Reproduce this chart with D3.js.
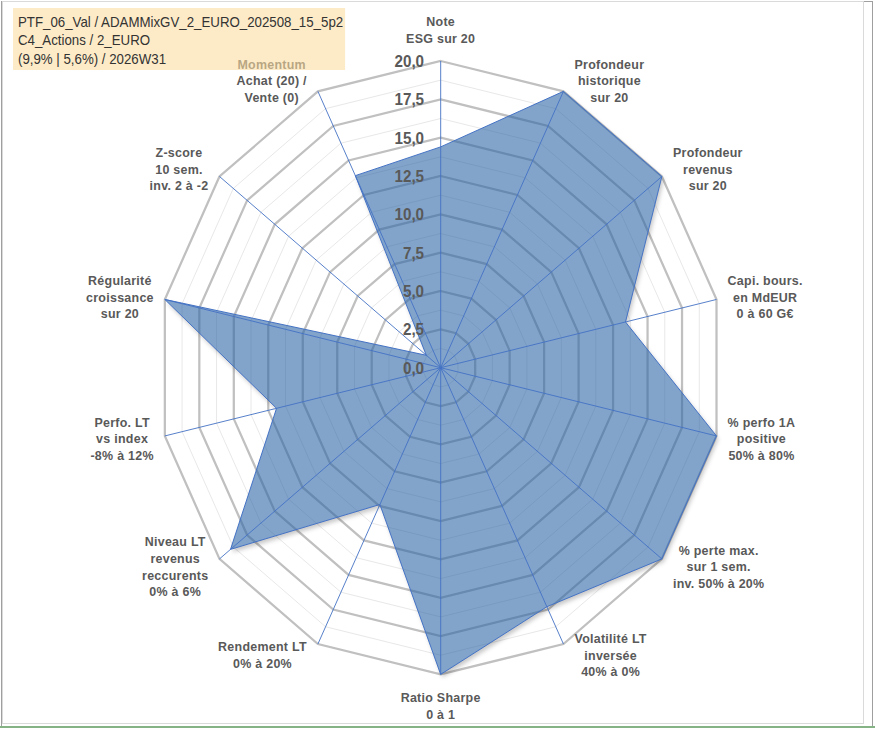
<!DOCTYPE html>
<html>
<head>
<meta charset="utf-8">
<script src="https://cdn.jsdelivr.net/npm/d3@7"></script>
<style>
  body { margin: 0; background: #fff; }
  text { font-family: "Liberation Sans", Arial, sans-serif; }
</style>
</head>
<body>
<svg id="chart"></svg>
<script>
// Axis labels (one entry per spoke, lines of text)
const categories = [
  ["Note", "ESG sur 20"],
  ["Profondeur", "historique", "sur 20"],
  ["Profondeur", "revenus", "sur 20"],
  ["Capi. bours.", "en MdEUR", "0 à 60 G€"],
  ["% perfo 1A", "positive", "50% à 80%"],
  ["% perte max.", "sur 1 sem.", "inv. 50% à 20%"],
  ["Volatilité LT", "inversée", "40% à 0%"],
  ["Ratio Sharpe", "0 à 1"],
  ["Rendement LT", "0% à 20%"],
  ["Niveau LT", "revenus", "reccurents", "0% à 6%"],
  ["Perfo. LT", "vs index", "-8% à 12%"],
  ["Régularité", "croissance", "sur 20"],
  ["Z-score", "10 sem.", "inv. 2 à -2"],
  ["Momentum", "Achat (20) /", "Vente (0)"]
];

// Scores (0 - 20)
const values = [14.4, 20, 20, 13.4, 20, 20, 17.3, 20, 9.9, 19.0, 11.9, 20, 1.3, 13.9];

// Radial tick labels
const ticks = [0, 2.5, 5, 7.5, 10, 12.5, 15, 17.5, 20];
const minorTicks = [1.25, 3.75, 6.25, 8.75, 11.25, 13.75, 16.25, 18.75];

const titleLines = [
  "PTF_06_Val / ADAMMixGV_2_EURO_202508_15_5p2",
  "C4_Actions / 2_EURO",
  "(9,9% | 5,6%) / 2026W31"
];

const width = 875, height = 729;
const squeeze = 0.9225; // the original picture is a bit narrower than tall
const cx = 477.7, cy = 367.7, R = 306.7;
const n = categories.length;

const svg = d3.select('#chart')
    .attr('width', width)
    .attr('height', height);

// frame
svg.append('rect')
    .attr('x', 1.5).attr('y', 1.5)
    .attr('width', 871).attr('height', 725)
    .attr('fill', 'none').attr('stroke', '#9f9f9f');
svg.append('rect')
    .attr('x', 2.5).attr('y', 1.5)
    .attr('width', 861).attr('height', 722)
    .attr('fill', 'none').attr('stroke', '#dadada');
svg.append('line')
    .attr('x1', 0).attr('x2', width)
    .attr('y1', 727).attr('y2', 727)
    .attr('stroke', '#86b386').attr('stroke-width', 2);

const g = svg.append('g').attr('transform', `scale(${squeeze},1)`);

const rScale = d3.scaleLinear().domain([0, 20]).range([0, R]);
const aScale = d3.scaleLinear().domain([0, n]).range([0, 2 * Math.PI]);
const idx = d3.range(n);

const ring = v => d3.lineRadial()
    .angle(i => aScale(i))
    .radius(() => rScale(v))
    .curve(d3.curveLinearClosed)(idx);

const area = d3.lineRadial()
    .angle((d, i) => aScale(i))
    .radius(d => rScale(d))
    .curve(d3.curveLinearClosed);

// shadow only outside the area, so the transparent fill stays clean
const defs = svg.append('defs');
const blur = defs.append('filter').attr('id', 'blur')
    .attr('x', '-10%').attr('y', '-10%').attr('width', '120%').attr('height', '120%');
blur.append('feGaussianBlur').attr('stdDeviation', 2.2);
const mask = defs.append('mask').attr('id', 'outside')
    .attr('maskUnits', 'userSpaceOnUse')
    .attr('x', -600).attr('y', -600).attr('width', 1200).attr('height', 1200);
mask.append('rect')
    .attr('x', -600).attr('y', -600).attr('width', 1200).attr('height', 1200)
    .attr('fill', '#fff');
mask.append('path').attr('d', area(values)).attr('fill', '#000');

const plot = g.append('g').attr('transform', `translate(${cx},${cy})`);

// minor grid
plot.selectAll('.minor')
    .data(minorTicks)
    .enter().append('path')
    .attr('d', d => ring(d))
    .attr('fill', 'none')
    .attr('stroke', '#e8e8e8')
    .attr('stroke-width', 1)
    .attr('vector-effect', 'non-scaling-stroke');

// major grid
plot.selectAll('.major')
    .data(ticks.filter(t => t > 0))
    .enter().append('path')
    .attr('d', d => ring(d))
    .attr('fill', 'none')
    .attr('stroke', '#c0c0c0')
    .attr('stroke-width', 2.25)
    .attr('vector-effect', 'non-scaling-stroke');

// data area
plot.append('g')
    .attr('mask', 'url(#outside)')
    .append('path')
    .attr('d', area(values))
    .attr('transform', 'translate(2,3)')
    .attr('fill', '#000')
    .attr('fill-opacity', 0.22)
    .attr('filter', 'url(#blur)');

plot.append('path')
    .attr('d', area(values))
    .attr('fill', '#2863a6')
    .attr('fill-opacity', 0.58)
    .attr('stroke', '#4472c4')
    .attr('stroke-width', 1)
    .attr('vector-effect', 'non-scaling-stroke');

// spokes
plot.selectAll('.spoke')
    .data(idx)
    .enter().append('line')
    .attr('x1', 0).attr('y1', 0)
    .attr('x2', i => rScale(20) * Math.sin(aScale(i)))
    .attr('y2', i => -rScale(20) * Math.cos(aScale(i)))
    .attr('stroke', '#4472c4')
    .attr('stroke-width', 0.9)
    .attr('vector-effect', 'non-scaling-stroke');

// radial tick labels
const fmt = d => d3.format('.1f')(d).replace('.', ',');
plot.selectAll('.tick')
    .data(ticks)
    .enter().append('text')
    .attr('x', -18)
    .attr('y', d => -rScale(d))
    .attr('dy', '0.36em')
    .attr('text-anchor', 'end')
    .attr('font-size', 16.5)
    .attr('font-weight', 'bold')
    .attr('fill', '#595959')
    .text(fmt);

// category labels
const lineH = 16.6;
categories.forEach((lines, i) => {
    const a = aScale(i);
    const s = Math.sin(a), c = Math.cos(a);
    const vx = rScale(20) * s, vy = -rScale(20) * c;
    const h = lines.length * lineH;
    const t = plot.append('text')
        .attr('font-size', 13.5)
        .attr('font-weight', 'bold')
        .attr('letter-spacing', 0.3)
        .attr('fill', '#595959')
        .attr('text-anchor', 'middle');
    lines.forEach(l => t.append('tspan').text(l));
    const w = d3.max(t.selectAll('tspan').nodes(), nd => nd.getComputedTextLength());
    let x, yc;
    if (Math.abs(s) < 0.3) {
        x = vx;
        yc = c > 0 ? vy - 14.5 - h / 2 : vy + 14.5 + h / 2;
    } else {
        x = vx + Math.sign(s) * (12 + w / 2);
        yc = vy - c * 12;
    }
    t.selectAll('tspan')
        .attr('x', x)
        .attr('y', (d, k) => yc - h / 2 + lineH * (k + 0.5))
        .attr('dy', '0.36em');
});

// title box (semi transparent, drawn over the chart)
g.append('rect')
    .attr('x', 14.1).attr('y', 8)
    .attr('width', 360).attr('height', 62)
    .attr('fill', '#fbdda2')
    .attr('fill-opacity', 0.59);

g.selectAll('.title')
    .data(titleLines)
    .enter().append('text')
    .attr('x', 19.5)
    .attr('y', (d, k) => 22 + k * 18.3)
    .attr('dy', '0.36em')
    .attr('font-size', 14.4)
    .attr('fill', '#333333')
    .text(d => d);
</script>
</body>
</html>
